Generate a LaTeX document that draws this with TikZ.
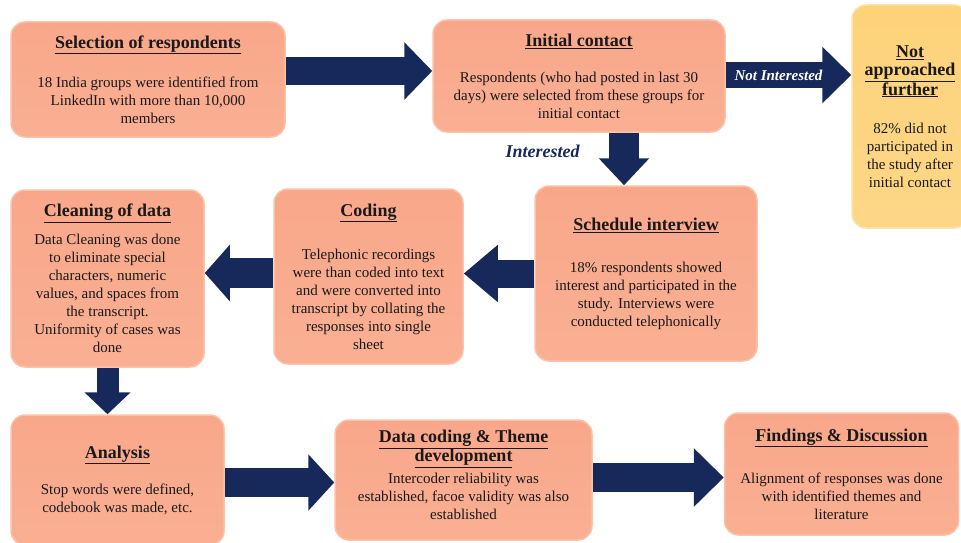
\documentclass[tikz,border=0pt]{standalone}
\usepackage{fontspec}
\setmainfont{Liberation Serif}
\usetikzlibrary{arrows.meta,positioning}
\definecolor{navy}{HTML}{17295B}
\definecolor{salmon}{HTML}{F9A78A}
\definecolor{salmonrim}{HTML}{FBC2A8}
\definecolor{sand}{HTML}{FDD27A}
\definecolor{sandrim}{HTML}{FEE2A6}
\tikzstyle{stage}=[draw=salmonrim, line width=1.5pt, top color=salmon, bottom color=salmon!70!salmonrim, rounded corners=14pt, align=center, inner sep=2pt, text=black!90, font=\fontsize{15}{18}\selectfont]
\tikzstyle{aside}=[stage, draw=sandrim, top color=sand, bottom color=sand!70!sandrim]
\tikzstyle{flow}=[draw=navy, line width=28pt, -{Triangle[length=28pt,width=56pt]}]
\newcommand{\stagetitle}[1]{{\fontsize{18}{18}\selectfont\bfseries\underline{#1}}}

\begin{document}
\begin{tikzpicture}[x=1pt, y=-1pt]
    \clip (0,0) rectangle (961,543);
    % first row
    \node[stage, minimum width=274pt, minimum height=115pt] (sel) at (148,79.5)
        {\stagetitle{Selection of respondents}\\[21pt]
         18 India groups were identified from\\ LinkedIn with more than 10,000\\ members};
    \node[stage, minimum width=292pt, minimum height=112pt] (ini) at (579,76)
        {\stagetitle{Initial contact}\\[18pt]
         Respondents (who had posted in last 30\\ days) were selected from these groups for\\ initial contact};
    \node[aside, minimum width=116pt, minimum height=223pt] (notap) at (910,116.5)
        {\stagetitle{Not}\\ \stagetitle{approached}\\ \stagetitle{further}\\[20pt]
         82\% did not\\ participated in\\ the study after\\ initial contact};
    % second row
    \node[stage, minimum width=222pt, minimum height=175pt] (sched) at (646,273.5)
        {\stagetitle{Schedule interview}\\[24pt]
         18\% respondents showed\\ interest and participated in the\\ study. Interviews were\\ conducted telephonically};
    \node[stage, minimum width=189pt, minimum height=175pt] (cod) at (368.5,276.5)
        {\stagetitle{Coding}\\[25pt]
         Telephonic recordings\\ were than coded into text\\ and were converted into\\ transcript by collating the\\ responses into single\\ sheet};
    \node[stage, minimum width=193pt, minimum height=177pt] (clean) at (107.5,278.5)
        {\stagetitle{Cleaning of data}\\[10pt]
         Data Cleaning was done\\ to eliminate special\\ characters, numeric\\ values, and spaces from\\ the transcript.\\ Uniformity of cases was\\ done};
    % third row
    \node[stage, minimum width=213pt, minimum height=130pt] (anal) at (117.5,480)
        {\stagetitle{Analysis}\\[18pt]
         Stop words were defined,\\ codebook was made, etc.};
    \node[stage, minimum width=257pt, minimum height=120pt] (theme) at (463.5,480)
        {\stagetitle{Data coding \& Theme}\\ \stagetitle{development}\\[4pt]
         Intercoder reliability was\\ established, facoe validity was also\\ established\\[-8pt]\mbox{}};
    \node[stage, minimum width=234pt, minimum height=122pt] (find) at (841.5,474)
        {\stagetitle{Findings \& Discussion}\\[24pt]
         Alignment of responses was done\\ with identified themes and\\ literature};

    % block arrows
    \draw[flow] ([yshift=8.5pt]sel.east) -- ([yshift=8.5pt]sel.east -| ini.west);
    \draw[flow, line width=25pt, -{Triangle[length=29pt,width=55pt]}] ([yshift=1pt]ini.east) -- ([yshift=1pt]ini.east -| notap.west)
        node[pos=0.42, text=white, font=\fontsize{15}{15}\selectfont\bfseries\itshape] (noint) {Not Interested};
    \draw[flow, line width=30pt, -{Triangle[length=27pt,width=49pt]}] ([xshift=45pt]ini.south) -- ([xshift=45pt]ini.south |- sched.north)
        node[pos=0.35, left=26pt, text=navy, font=\fontsize{18}{18}\selectfont\bfseries\itshape] (yes) {Interested};
    \draw[flow, -{Triangle[length=34pt,width=55pt]}] (sched.west) -- (sched.west -| cod.east);
    \draw[flow, line width=30pt, -{Triangle[length=25pt,width=55pt]}] ([yshift=3.5pt]cod.west) -- ([yshift=3.5pt]cod.west -| clean.east);
    \draw[flow, line width=22pt, -{Triangle[length=22pt,width=45pt]}] (clean.south) -- (clean.south |- anal.north);
    \draw[flow, line width=29pt, -{Triangle[length=26pt,width=55pt]}] ([yshift=-2.5pt]anal.east) -- ([yshift=-2.5pt]anal.east -| theme.west);
    \draw[flow, line width=29pt, -{Triangle[length=30pt,width=57pt]}] ([yshift=2.5pt]theme.east) -- ([yshift=2.5pt]theme.east -| find.west);
\end{tikzpicture}
\end{document}
